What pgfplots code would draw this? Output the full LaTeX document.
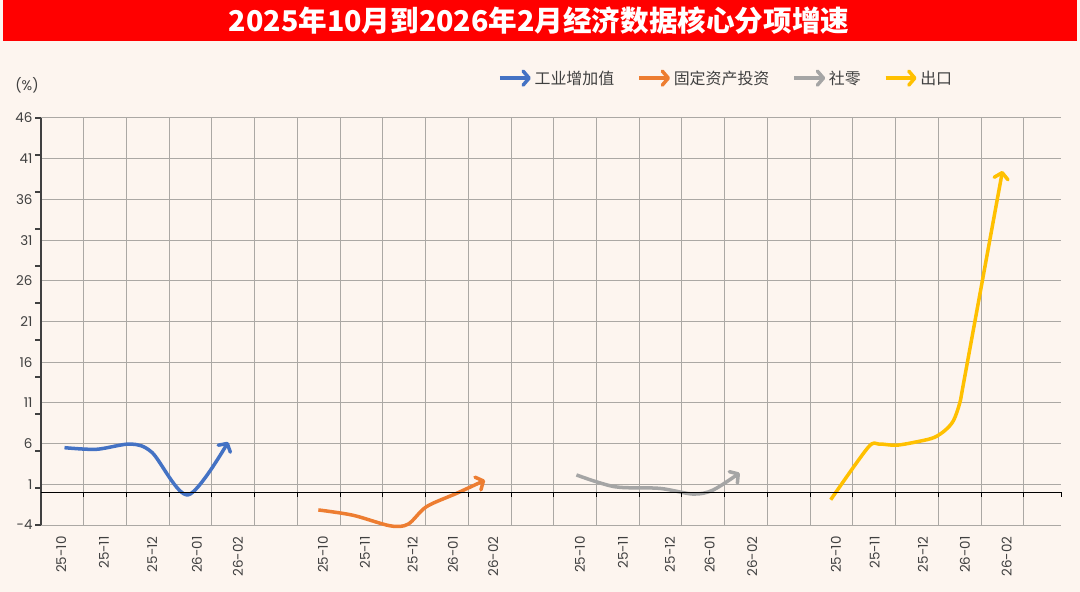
\documentclass[border=0pt]{standalone}
\usepackage{pgfplots}
\pgfplotsset{compat=1.18}
\usepackage{fontspec}
\setmainfont{Poppins}
\newfontfamily\cjk{Noto Sans CJK SC}
\usetikzlibrary{arrows.meta}
\definecolor{bg}{HTML}{FDF5EF}
\definecolor{tred}{HTML}{FF0000}
\definecolor{cblue}{HTML}{4472C4}
\definecolor{corange}{HTML}{ED7D31}
\definecolor{cgray}{HTML}{A5A5A5}
\definecolor{cyellow}{HTML}{FFC000}
\definecolor{gridc}{HTML}{ABA8A4}
\definecolor{txt}{HTML}{404040}
\begin{document}
\begin{tikzpicture}
\fill[bg] (0,0) rectangle (1080bp,592bp);
\fill[tred] (3bp,551bp) rectangle (1077bp,592bp);
\node[text=white, font=\cjk\bfseries\fontsize{28.7}{32}\selectfont] at (539bp,571bp) {2025年10月到2026年2月经济数据核心分项增速};
\node[text=txt, font=\fontsize{14}{16}\selectfont] at (27bp,507bp) {(\%)};
\begin{axis}[
  at={(41bp,67bp)}, anchor=south west,
  scale only axis, width=1020bp, height=407bp,
  xmin=0, xmax=23.87, ymin=-4, ymax=46,
  clip=false,
  axis x line*=bottom, axis y line*=left,
  x axis line style={draw=none},
  y axis line style={draw=txt, line width=1.3bp, -},
  xtick={1,...,23}, xticklabels={},
  ytick={-4,1,...,46},
  yticklabels={-4,1,6,11,16,21,26,31,36,41,46},
  minor ytick={-4,0.5454,5.0909,9.6364,14.1818,18.7273,23.2727,27.8182,32.3636,36.9091,41.4545,46},
  major tick length=0pt, minor tick length=6bp, tick align=outside,
  minor tick style={draw=txt, line width=1.1bp},
  grid=major, major grid style={draw=gridc, line width=1bp},
  tick label style={text=txt, font=\fontsize{13.5}{15}\selectfont},
  yticklabel style={xshift=-5bp},
  extra x ticks={0.47,1.47,2.60,3.65,4.61, 6.60,7.58,8.70,9.64,10.58, 12.61,13.62,14.72,15.65,16.64, 18.6,19.51,20.64,21.62,22.6},
  extra x tick labels={25-10,25-11,25-12,26-01,26-02,25-10,25-11,25-12,26-01,26-02,25-10,25-11,25-12,26-01,26-02,25-10,25-11,25-12,26-01,26-02},
  extra x tick style={grid=none, major tick length=0pt, tick label style={yshift=-8bp, rotate=90, anchor=east}},
  legend columns=4,
  legend style={at={(0.445,1.098)}, anchor=west, draw=none, fill=none,
     font=\cjk\fontsize{16}{18}\selectfont, text=txt,
     /tikz/every even column/.append style={column sep=21bp}},
  legend cell align=left,
  legend image code/.code={\draw[#1, line width=3.5bp] (0bp,0bp) -- (31bp,0bp);},
]
\addplot[cblue, line width=3.5bp, smooth, -{Straight Barb[round,length=6bp,width=14bp]}] coordinates {(0.55,5.5) (1.3,5.3) (2.1,5.95) (2.6,4.9) (3.44,-0.3) (4.38,6.2)};
\addlegendentry{工业增加值}
\addplot[corange, line width=3.5bp, smooth, -{Straight Barb[round,length=6bp,width=14bp]}] coordinates {(6.49,-2.15) (7.3,-2.8) (8.17,-4.1) (8.59,-3.9) (9.02,-1.75) (9.73,-0.1) (10.39,1.5)};
\addlegendentry{固定资产投资}
\addplot[cgray, line width=3.5bp, smooth, -{Straight Barb[round,length=6bp,width=14bp]}] coordinates {(12.53,2.15) (13.43,0.7) (14.48,0.5) (15.26,-0.2) (15.73,0.3) (16.35,2.4)};
\addlegendentry{社零}
\addplot[cyellow, line width=3.5bp, smooth, -{Straight Barb[round,length=6bp,width=14bp]}] coordinates {(18.48,-0.9) (19.35,5.5) (19.6,5.95) (20.02,5.8) (20.57,6.3) (20.9,6.75) (21.15,7.6) (21.35,8.8) (21.5,11) (21.62,14.3) (22.5,39.5)};
\addlegendentry{出口}
\addplot[black, line width=1.2bp, forget plot] coordinates {(0,0) (23.87,0)};
\addplot[ycomb, black, line width=1bp, forget plot] coordinates {(1,-0.6) (2,-0.6) (3,-0.6) (4,-0.6) (5,-0.6) (6,-0.6) (7,-0.6) (8,-0.6) (9,-0.6) (10,-0.6) (11,-0.6) (12,-0.6) (13,-0.6) (14,-0.6) (15,-0.6) (16,-0.6) (17,-0.6) (18,-0.6) (19,-0.6) (20,-0.6) (21,-0.6) (22,-0.6) (23,-0.6) (23.87,-0.6)};
\end{axis}
\pgfresetboundingbox
\path (0,0) rectangle (1080bp,592bp);
\end{tikzpicture}
\end{document}
